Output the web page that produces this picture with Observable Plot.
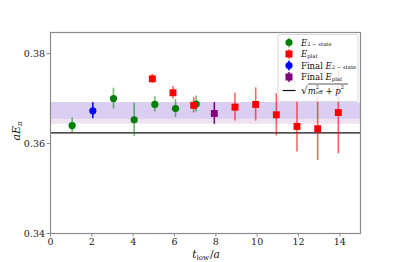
<!DOCTYPE html>
<html>
<head>
<meta charset="utf-8">
<script src="https://cdn.jsdelivr.net/npm/d3@7"></script>
<script src="https://cdn.jsdelivr.net/npm/@observablehq/plot@0.6"></script>
<style>
  html, body { margin: 0; padding: 0; background: #fff; }
  #chart { width: 400px; height: 262px; }
</style>
</head>
<body>
<div id="chart"></div>
<script>
// ---- data ----
const twoStateT   = [1, 3, 4, 5, 6, 7];
const twoStateE   = [0.3640, 0.3700, 0.3653, 0.3687, 0.3678, 0.3688];
const twoStateErr = [0.0017, 0.0023, 0.0037, 0.0017, 0.0020, 0.0018];

const platT   = [5, 6, 7, 9, 10, 11, 12, 13, 14];
const platE   = [0.3744, 0.3713, 0.3685, 0.3681, 0.3687, 0.3664, 0.3638, 0.3633, 0.3669];
const platErr = [0.0010, 0.0014, 0.0017, 0.0031, 0.0037, 0.0047, 0.0057, 0.0071, 0.0092];

const finalTwoStateT = [2], finalTwoStateE = [0.3673], finalTwoStateErr = [0.0018];
const finalPlatT = [8], finalPlatE = [0.3667], finalPlatErr = [0.0024];

const dispersionE = [0.3624];
const bandTwoState = [0.3654, 0.3691];
const bandPlat = [0.3643, 0.3691];

const xTicks = [0, 2, 4, 6, 8, 10, 12, 14];
const yTicks = [0.34, 0.36, 0.38];

// ---- build tables ----
const mk = (T, E, R) => T.map((t, i) => ({t, e: E[i], lo: E[i] - R[i], hi: E[i] + R[i]}));
const twoState = mk(twoStateT, twoStateE, twoStateErr);
const plat = mk(platT, platE, platErr);
const finalTwo = mk(finalTwoStateT, finalTwoStateE, finalTwoStateErr);
const finalPlat = mk(finalPlatT, finalPlatE, finalPlatErr);

const serif = "DejaVu Serif";
const grey = "#8c8c8c";

const chart = Plot.plot({
  width: 400,
  height: 262,
  marginLeft: 50,
  marginRight: 40,
  marginTop: 32,
  marginBottom: 29,
  style: {fontFamily: serif, fontSize: "9px", background: "white", color: "#222"},
  x: {domain: [0, 15]},
  y: {domain: [0.34, 0.3847]},
  marks: [
    Plot.rect([bandPlat], {x1: 0, x2: 15, y1: d => d[0], y2: d => d[1], fill: "#efe3f3"}),
    Plot.rect([bandTwoState], {x1: 0, x2: 15, y1: d => d[0], y2: d => d[1], fill: "#dacef3"}),
    Plot.ruleY(dispersionE, {stroke: "#111", strokeWidth: 1.2}),
    // error bars
    Plot.ruleX(twoState, {x: "t", y1: "lo", y2: "hi", stroke: "green", strokeOpacity: 0.55, strokeWidth: 1.6, dx: 1}),
    Plot.ruleX(plat, {x: "t", y1: "lo", y2: "hi", stroke: "red", strokeOpacity: 0.6, strokeWidth: 1.6, dx: -1.5}),
    Plot.ruleX(finalTwo, {x: "t", y1: "lo", y2: "hi", stroke: "blue", strokeWidth: 1.6, dx: 1}),
    Plot.ruleX(finalPlat, {x: "t", y1: "lo", y2: "hi", stroke: "purple", strokeWidth: 1.6, dx: -1.5}),
    // points
    Plot.dot(twoState, {x: "t", y: "e", fill: "green", r: 3.6, dx: 1}),
    Plot.dot(plat, {x: "t", y: "e", fill: "red", symbol: "square", r: 3.9, dx: -1.5}),
    Plot.dot(finalTwo, {x: "t", y: "e", fill: "blue", r: 3.6, dx: 1}),
    Plot.dot(finalPlat, {x: "t", y: "e", fill: "purple", symbol: "square", r: 3.9, dx: -1.5}),
    Plot.frame({stroke: grey, strokeWidth: 1.2}),
    Plot.axisX({ticks: xTicks, tickSize: 3.5, stroke: grey, tickPadding: 1.5, label: null, fontFamily: serif, fontSize: 9.5}),
    Plot.axisY({ticks: yTicks, tickSize: 3.5, stroke: grey, tickPadding: 2, tickFormat: d3.format(".2f"), label: null, fontFamily: serif, fontSize: 9.5})
  ]
});

document.getElementById("chart").appendChild(chart);

// ---- labels and legend ----
const svg = d3.select(chart);
const fs = 8.5;

function subLabel(g, x, y, pre, main, sub, size) {
  const t = g.append("text").attr("x", x).attr("y", y).attr("font-family", serif)
    .attr("text-anchor", "start")
    .attr("font-size", size).attr("fill", "#111").attr("dominant-baseline", "middle");
  if (pre) t.append("tspan").text(pre);
  t.append("tspan").attr("font-style", "italic").text(main);
  t.append("tspan").attr("font-size", size * 0.62).attr("dy", size * 0.3).text(sub);
  return t;
}

// y label
const yl = svg.append("g").attr("transform", "translate(17,131) rotate(-90)");
const ylt = yl.append("text").attr("text-anchor", "middle").attr("font-family", serif)
  .attr("font-size", 11).attr("fill", "#111").attr("dominant-baseline", "middle");
ylt.append("tspan").attr("font-style", "italic").text("aE");
ylt.append("tspan").attr("font-style", "italic").attr("font-size", 7).attr("dy", 3).text("π");

// x label
const xlt = svg.append("text").attr("x", 206).attr("y", 257.5).attr("text-anchor", "middle")
  .attr("font-family", serif).attr("font-size", 10.5).attr("fill", "#111");
xlt.append("tspan").attr("font-style", "italic").text("t");
xlt.append("tspan").attr("font-size", 7).attr("dy", 2.5).text("low");
xlt.append("tspan").attr("dy", -2.5).attr("dx", 1).text("/");
xlt.append("tspan").attr("font-style", "italic").text("a");

// legend
const lg = svg.append("g").attr("text-anchor", "start");
lg.append("rect").attr("x", 278).attr("y", 34.5).attr("width", 80).attr("height", 67)
  .attr("rx", 2).attr("fill", "white").attr("fill-opacity", 0.82).attr("stroke", "#d0d0d0").attr("stroke-width", 0.8);
const mx = 289, tx = 301;
const rows = [42.5, 54, 65.5, 77, 90.5];
// markers
lg.append("line").attr("x1", mx).attr("x2", mx).attr("y1", rows[0] - 5).attr("y2", rows[0] + 5).attr("stroke", "green").attr("stroke-opacity", 0.55).attr("stroke-width", 1.5);
lg.append("circle").attr("cx", mx).attr("cy", rows[0]).attr("r", 3.6).attr("fill", "green");
lg.append("line").attr("x1", mx).attr("x2", mx).attr("y1", rows[1] - 5).attr("y2", rows[1] + 5).attr("stroke", "red").attr("stroke-opacity", 0.6).attr("stroke-width", 1.5);
lg.append("rect").attr("x", mx - 3.5).attr("y", rows[1] - 3.5).attr("width", 7).attr("height", 7).attr("fill", "red");
lg.append("line").attr("x1", mx).attr("x2", mx).attr("y1", rows[2] - 5).attr("y2", rows[2] + 5).attr("stroke", "blue").attr("stroke-width", 1.5);
lg.append("circle").attr("cx", mx).attr("cy", rows[2]).attr("r", 3.6).attr("fill", "blue");
lg.append("line").attr("x1", mx).attr("x2", mx).attr("y1", rows[3] - 5).attr("y2", rows[3] + 5).attr("stroke", "purple").attr("stroke-width", 1.5);
lg.append("rect").attr("x", mx - 3.5).attr("y", rows[3] - 3.5).attr("width", 7).attr("height", 7).attr("fill", "purple");
lg.append("line").attr("x1", mx - 6.5).attr("x2", mx + 6.5).attr("y1", rows[4]).attr("y2", rows[4]).attr("stroke", "#111").attr("stroke-width", 1.2);
// texts
subLabel(lg, tx, rows[0], null, "E", "2 − state", fs);
subLabel(lg, tx, rows[1], null, "E", "plat", fs);
subLabel(lg, tx, rows[2], "Final ", "E", "2 − state", fs);
subLabel(lg, tx, rows[3], "Final ", "E", "plat", fs);
// sqrt(m_eff^2 + p^2)
const st = lg.append("text").attr("x", tx).attr("y", rows[4]).attr("font-family", serif)
  .attr("text-anchor", "start")
  .attr("font-size", fs).attr("fill", "#111").attr("dominant-baseline", "middle");
st.append("tspan").attr("font-size", fs * 1.25).text("√");
st.append("tspan").attr("font-style", "italic").text("m");
st.append("tspan").attr("font-size", fs * 0.6).attr("dy", -3).text("2");
st.append("tspan").attr("font-size", fs * 0.6).attr("dx", -3).attr("dy", 5.5).text("eff");
st.append("tspan").attr("dy", -2.5).text(" + ");
st.append("tspan").attr("font-style", "italic").text("p");
st.append("tspan").attr("font-size", fs * 0.6).attr("dy", -3).text("2");
const stw = st.node().getComputedTextLength();
lg.append("line").attr("x1", tx + 7).attr("x2", tx + stw + 1).attr("y1", rows[4] - 6.5).attr("y2", rows[4] - 6.5)
  .attr("stroke", "#111").attr("stroke-width", 0.7);
</script>
</body>
</html>
